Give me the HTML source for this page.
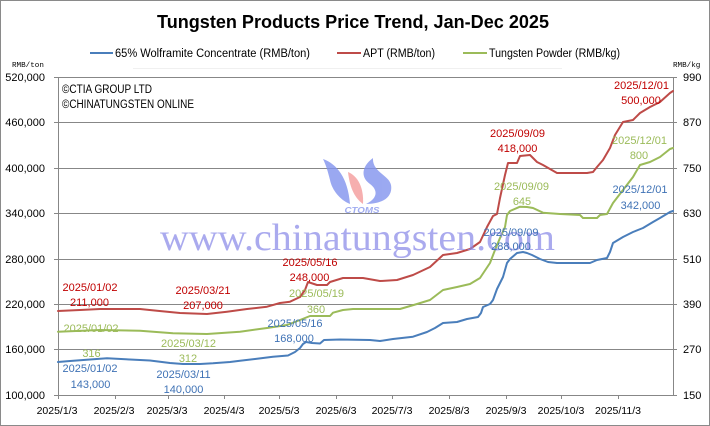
<!DOCTYPE html>
<html><head><meta charset="utf-8"><style>
html,body{margin:0;padding:0;background:#fff;}
svg{display:block;}
text{font-family:"Liberation Sans",Arial,sans-serif;}
</style></head><body>
<svg width="710" height="426" viewBox="0 0 710 426" xmlns="http://www.w3.org/2000/svg">
<rect x="0.5" y="0.5" width="709" height="425" fill="#fff" stroke="#8a8a8a" stroke-width="1"/>
<!-- title -->
<text x="353" y="28" text-anchor="middle" font-size="18" font-weight="bold" textLength="392" lengthAdjust="spacingAndGlyphs" fill="#000">Tungsten Products Price Trend, Jan-Dec 2025</text>
<!-- legend -->
<line x1="90" y1="53" x2="113" y2="53" stroke="#4a7ebb" stroke-width="2"/>
<text x="115" y="57" font-size="11.5" textLength="195" lengthAdjust="spacingAndGlyphs" fill="#000">65% Wolframite Concentrate (RMB/ton)</text>
<line x1="337" y1="53" x2="361" y2="53" stroke="#be4b48" stroke-width="2"/>
<text x="363" y="57" font-size="11.5" textLength="72" lengthAdjust="spacingAndGlyphs" fill="#000">APT (RMB/ton)</text>
<line x1="463" y1="53" x2="487" y2="53" stroke="#9bbb59" stroke-width="2"/>
<text x="489" y="57" font-size="11.5" textLength="131" lengthAdjust="spacingAndGlyphs" fill="#000">Tungsten Powder (RMB/kg)</text>
<line x1="133" y1="68.5" x2="562" y2="68.5" stroke="#f0f0f0" stroke-width="1"/>
<!-- unit labels -->
<text x="12" y="67" font-size="7.6" style="font-family:'Liberation Mono',monospace" fill="#000">RMB/ton</text>
<text x="673" y="67" font-size="7.6" style="font-family:'Liberation Mono',monospace" fill="#000">RMB/kg</text>
<!-- gridlines -->
<g stroke="#878787" stroke-width="1">
<line x1="54" y1="77.5" x2="677" y2="77.5"/>
<line x1="54" y1="122.5" x2="677" y2="122.5"/>
<line x1="54" y1="168.5" x2="677" y2="168.5"/>
<line x1="54" y1="213.5" x2="677" y2="213.5"/>
<line x1="54" y1="259.5" x2="677" y2="259.5"/>
<line x1="54" y1="304.5" x2="677" y2="304.5"/>
<line x1="54" y1="349.5" x2="677" y2="349.5"/>
<line x1="54" y1="395.5" x2="677" y2="395.5"/>
<line x1="58.5" y1="77" x2="58.5" y2="399"/>
<line x1="673.5" y1="77" x2="673.5" y2="396"/>
<line x1="115.5" y1="395" x2="115.5" y2="399"/>
<line x1="168.5" y1="395" x2="168.5" y2="399"/>
<line x1="224.5" y1="395" x2="224.5" y2="399"/>
<line x1="279.5" y1="395" x2="279.5" y2="399"/>
<line x1="336.5" y1="395" x2="336.5" y2="399"/>
<line x1="392.5" y1="395" x2="392.5" y2="399"/>
<line x1="449.5" y1="395" x2="449.5" y2="399"/>
<line x1="506.5" y1="395" x2="506.5" y2="399"/>
<line x1="561.5" y1="395" x2="561.5" y2="399"/>
<line x1="618.5" y1="395" x2="618.5" y2="399"/>
</g>
<!-- left axis labels -->
<g font-size="11" fill="#000" text-anchor="end">
<text x="45" y="81">520,000</text>
<text x="45" y="126">460,000</text>
<text x="45" y="172">400,000</text>
<text x="45" y="217">340,000</text>
<text x="45" y="263">280,000</text>
<text x="45" y="308">220,000</text>
<text x="45" y="353">160,000</text>
<text x="45" y="399">100,000</text>
</g>
<g font-size="11" fill="#000">
<text x="683" y="81">990</text>
<text x="683" y="126">870</text>
<text x="683" y="172">750</text>
<text x="683" y="217">630</text>
<text x="683" y="263">510</text>
<text x="683" y="308">390</text>
<text x="683" y="353">270</text>
<text x="683" y="399">150</text>
</g>
<g font-size="10.5" fill="#000" text-anchor="middle">
<text x="57" y="414">2025/1/3</text>
<text x="114" y="414">2025/2/3</text>
<text x="167" y="414">2025/3/3</text>
<text x="224" y="414">2025/4/3</text>
<text x="279" y="414">2025/5/3</text>
<text x="336" y="414">2025/6/3</text>
<text x="392" y="414">2025/7/3</text>
<text x="449" y="414">2025/8/3</text>
<text x="506" y="414">2025/9/3</text>
<text x="561" y="414">2025/10/3</text>
<text x="618" y="414">2025/11/3</text>
</g>
<!-- copyright -->
<text x="62" y="93" font-size="11.5" textLength="90" lengthAdjust="spacingAndGlyphs" fill="#000">©CTIA GROUP LTD</text>
<text x="62" y="108" font-size="11.5" textLength="132" lengthAdjust="spacingAndGlyphs" fill="#000">©CHINATUNGSTEN ONLINE</text>
<!-- logo -->
<g opacity="0.8">
<path d="M323,159 C337,164 348,178 350,204 C340,200 332,190 330,180 C328,172 326,165 323,159 Z" fill="#8293ee"/>
<path d="M348,172 C358,176 364,188 363,204 C356,199 350,190 348,172 Z" fill="#f49c9c"/>
<path d="M373,158 C362,166 360,177 370,184 C378,190 378,198 366,204 C384,204 393,196 391,185 C389,175 372,172 373,158 Z" fill="#8293ee"/>
</g>
<text x="362" y="213" text-anchor="middle" font-size="8.5" font-weight="bold" font-style="italic" fill="#a0acf0" textLength="35" lengthAdjust="spacingAndGlyphs">CTOMS</text>
<!-- series -->
<g fill="none" stroke-width="2" stroke-linejoin="round" stroke-linecap="round">
<polyline stroke="#4a7ebb" points="58,362 70,361 90,359.5 107,358.3 130,359.5 150,360.5 170,363 183,364 200,364 213,363.3 230,362 240,360.7 255,359 273,356.7 288,355.5 295,352 300,348 303,344 306,342 312,343 320,343.5 324,340 340,339.5 370,340 380,341 393,339 413,336.7 427,332 435,328 443,323 457,322 467,319 478,317 481,313 483,307 490,304 493,300 497,289 503,277 507,263 510,259 517,253 523,252 527,253 532,255 540,259 548,262 557,263 590,263 597,260 607,258 610,252 613,243 623,237 633,232 643,228 653,222 660,218 670,212 673,211"/>
<polyline stroke="#be4b48" points="58,311 80,310 100,309 140,309 157,310.7 180,313 207,314 227,311.7 247,309 267,306.7 280,303 290,301.7 300,297 305,290 308,282 317,285 327,285 330,282 343,278 363,278 380,281 397,280 413,275 430,267 443,255 457,253 470,249 480,242 487,227 493,216 497,214 500,198 505,175 508,163 517,163 520,156 530,155 537,162 543,165 557,173 587,173 593,172 597,167 603,160 610,148 615,135 623,122 633,120 640,113 650,107 660,102 670,93 673,91"/>
<polyline stroke="#9bbb59" points="58,331.7 100,330 140,330.7 173,333.3 207,334 240,331.7 267,328 287,325 300,320 310,316 330,316 333,312.7 343,310 353,309 400,309 417,304 430,300 443,290 457,287 470,284 480,278 490,263 495,250 500,238 505,227 507,215 510,211 520,206.7 527,207 533,208 543,212.7 560,214 580,215 583,218 597,218 600,215 607,214 613,203 623,190 633,177 640,165 650,162 660,157 670,149 673,148"/>
</g>
<!-- watermark -->
<text x="160" y="250" font-size="38" textLength="395" lengthAdjust="spacingAndGlyphs" style="font-family:'Liberation Serif',serif" fill="#8a8ae8" opacity="0.72">www.chinatungsten.com</text>
<!-- annotations -->
<g font-size="11" text-anchor="middle" fill="#c00000">
<text x="90" y="291">2025/01/02</text>
<text x="89.5" y="306">211,000</text>
<text x="203" y="294">2025/03/21</text>
<text x="203" y="309">207,000</text>
<text x="310" y="266">2025/05/16</text>
<text x="309.5" y="281">248,000</text>
<text x="517.5" y="137">2025/09/09</text>
<text x="517.5" y="152">418,000</text>
<text x="641.5" y="89">2025/12/01</text>
<text x="641" y="104">500,000</text>
</g>
<g font-size="11" text-anchor="middle" fill="#9bbb59">
<text x="91" y="332">2025/01/02</text>
<text x="91.5" y="357">316</text>
<text x="188.5" y="347">2025/03/12</text>
<text x="188" y="362">312</text>
<text x="316.5" y="297">2025/05/19</text>
<text x="316" y="313">360</text>
<text x="521.5" y="190">2025/09/09</text>
<text x="522" y="205">645</text>
<text x="639.5" y="144">2025/12/01</text>
<text x="639" y="159">800</text>
</g>
<g font-size="11" text-anchor="middle" fill="#3f72b5">
<text x="90" y="372">2025/01/02</text>
<text x="90.5" y="388">143,000</text>
<text x="183.5" y="378">2025/03/11</text>
<text x="183.5" y="393">140,000</text>
<text x="295" y="327">2025/05/16</text>
<text x="294" y="342">168,000</text>
<text x="511" y="236">2025/09/09</text>
<text x="511" y="250">288,000</text>
<text x="640" y="193">2025/12/01</text>
<text x="640.5" y="209">342,000</text>
</g>
</svg>
</body></html>
